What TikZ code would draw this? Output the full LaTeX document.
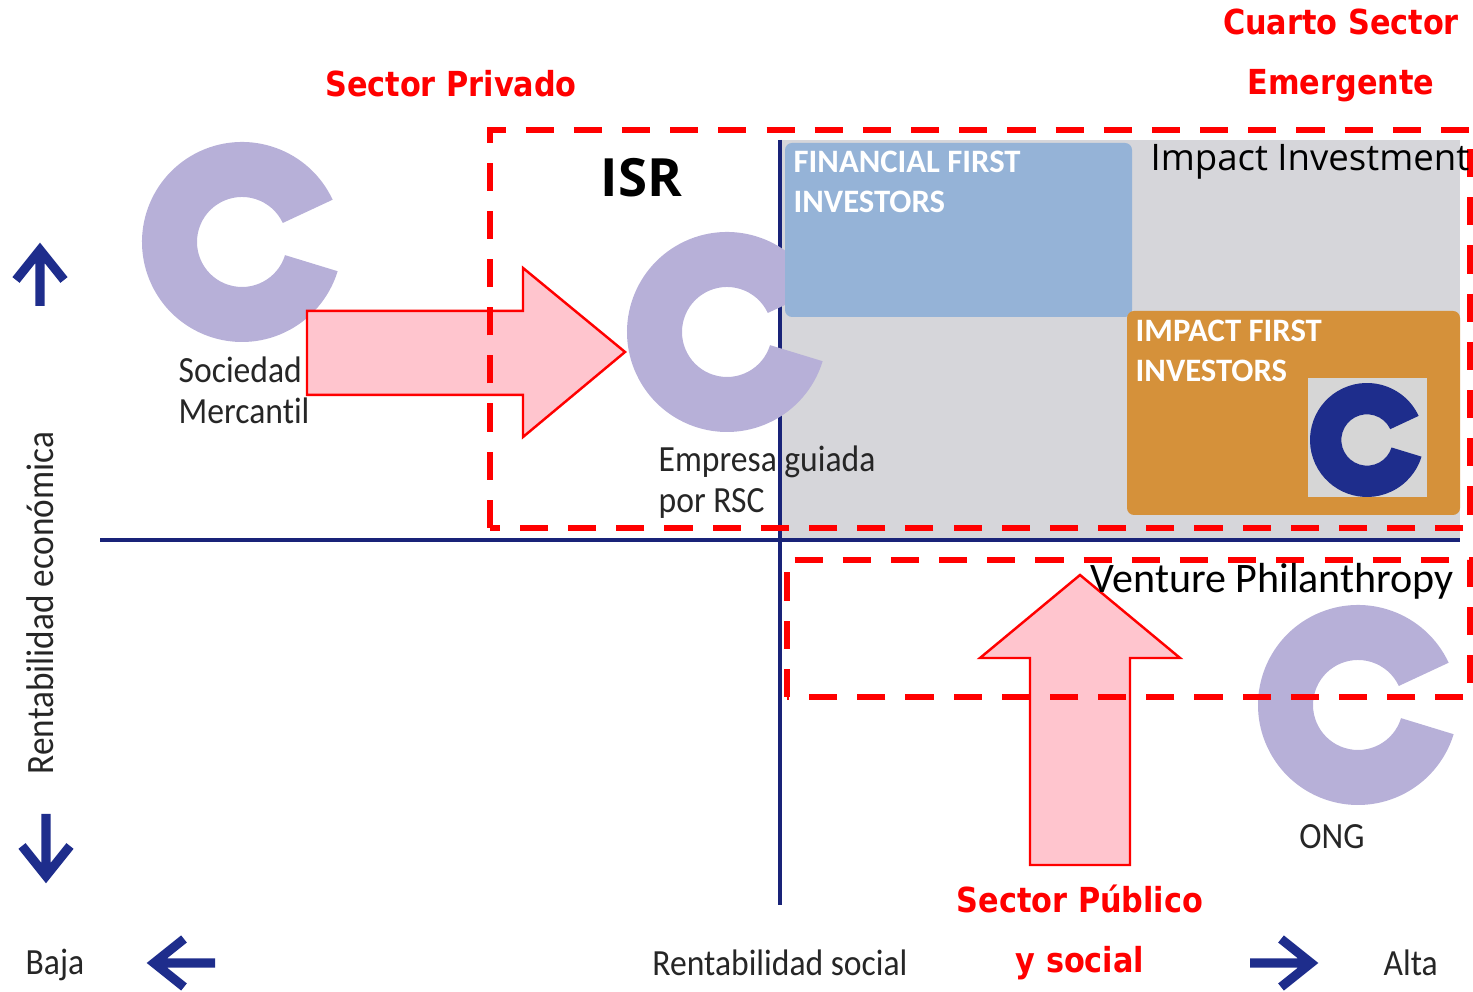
\documentclass[tikz,border=0pt]{standalone}
\usepackage{fontspec}
\setmainfont{Carlito}[Ligatures=NoCommon]
\newfontfamily\narrowfont{Carlito}[FakeStretch=0.91, Ligatures=NoCommon]
\newfontfamily\headfont{DejaVu Sans}[FakeStretch=0.88]
\newfontfamily\opensans{Open Sans}
\usetikzlibrary{positioning}
\definecolor{lavC}{RGB}{183,176,216}
\definecolor{grayA}{RGB}{214,214,218}
\definecolor{blueA}{RGB}{149,179,215}
\definecolor{orangeA}{RGB}{213,145,58}
\definecolor{navyA}{RGB}{30,45,140}
\definecolor{axisA}{RGB}{25,35,120}
\definecolor{pinkA}{RGB}{255,197,206}
\definecolor{squareA}{RGB}{214,214,214}
\tikzset{%
  cee/.pic = {\path[pic actions] (25:100) arc (25:343:100) -- (343:45)
        arc (343:25:45) -- cycle;},
  redbox/.style = {draw=red, line width=1.7pt, dash pattern=on 8pt off 5.7pt},
  pinkarrow/.style = {fill=pinkA, draw=red, line width=0.7pt, line join=miter},
  navyarrow/.style = {draw=navyA, line width=2.6pt, line join=miter},
  axisline/.style = {draw=axisA, line width=0.9pt},
  lbl/.style = {inner sep=0, align=left, text=black!85,
        font=\narrowfont\fontsize{10.5}{11.7}\selectfont},
  redlbl/.style = {inner sep=0, align=center, text=red,
        font=\headfont\bfseries\fontsize{9.8}{17}\selectfont},
  whitelbl/.style = {inner sep=0, align=left, text=white,
        font=\bfseries\fontsize{9.3}{11.4}\selectfont}
}
\begin{document}
\begin{tikzpicture}[x=0.01cm, y=0.01cm]
\useasboundingbox (0,0) rectangle (1473,992);
% quadrant and axes
\fill[grayA] (780,452) rectangle (1460,852);
\coordinate (hleft) at (100,452);
\coordinate (hright) at (1460,452);
\coordinate (vtop) at (780,852);
\coordinate (vbot) at (780,87);
\draw[axisline] (hleft) -- (hright);
\draw[axisline] (vtop) -- (vbot);
% companies
\pic[fill=lavC] (csoc) at (242,750) {cee};
\pic[fill=lavC] (cemp) at (727,660) {cee};
\pic[fill=lavC] (cong) at (1358,287) {cee};
\fill[blueA, rounded corners=2pt] (785,675) rectangle (1132,849);
\fill[orangeA, rounded corners=2pt] (1127,477) rectangle (1460,681);
\fill[squareA] (1308,495) rectangle (1427,614);
\pic[fill=navyA, scale=0.57] (cimp) at (1367,552) {cee};
% big arrows
\draw[pinkarrow] (307,681) -- (523,681) -- (523,724) -- (625,640)
      -- (523,555) -- (523,597) -- (307,597) -- cycle;
\draw[pinkarrow] (1030,127) -- (1030,334) -- (980,334) -- (1080,417)
      -- (1180,334) -- (1130,334) -- (1130,127) -- cycle;
% sectors
\draw[redbox] (490,464) rectangle (1470,862);
\draw[redbox] (787,295) rectangle (1470,432);
% axis arrows
\draw[navyarrow] (16,712) -- (40,742) -- (64,712) (40,742) -- (40,686);
\draw[navyarrow] (22,146) -- (46,116) -- (70,146) (46,116) -- (46,178);
\draw[navyarrow] (184,53) -- (154,29) -- (184,5) (154,29) -- (215,29);
\draw[navyarrow] (1281,53) -- (1311,29) -- (1281,5) (1311,29) -- (1250,29);
% labels
\node[lbl, anchor=north west] (soc) at (178,636) {Sociedad\\Mercantil};
\node[lbl, anchor=north west] (emp) at (658,547) {Empresa guiada\\por RSC};
\node[lbl, anchor=north] (ong) at (1332,168) {ONG};
\node[whitelbl, anchor=north west] (fin) at (793,842) {FINANCIAL FIRST\\INVESTORS};
\node[whitelbl, anchor=north west] (imp) at (1135,673) {IMPACT FIRST\\INVESTORS};
\node[inner sep=0, anchor=north west, font=\opensans\bfseries\fontsize{15}{18}\selectfont]
      (isr) at (600,834) {ISR};
\node[inner sep=0, anchor=north west, font=\opensans\fontsize{10.4}{12}\selectfont]
      (impinv) at (1150,848) {Impact Investment};
\node[inner sep=0, anchor=north west, font=\fontsize{11.95}{14}\selectfont]
      (vp) at (1090,429) {Venture Philanthropy};
\node[lbl, rotate=90, font=\narrowfont\fontsize{11}{12}\selectfont] (recon) at (40,389)
      {Rentabilidad económica};
\node[lbl, anchor=north] (rsoc) at (780,43) {Rentabilidad social};
\node[lbl, anchor=north west] (baja) at (25,44) {Baja};
\node[lbl, anchor=north west] (alta) at (1383,43) {Alta};
\node[redlbl, anchor=north] (cuarto) at (1341,984) {Cuarto Sector\\Emergente};
\node[redlbl, anchor=north] (priv) at (451,922) {Sector Privado};
\node[redlbl, anchor=north] (pub) at (1080,108) {Sector Público\\y social};
\end{tikzpicture}
\end{document}
